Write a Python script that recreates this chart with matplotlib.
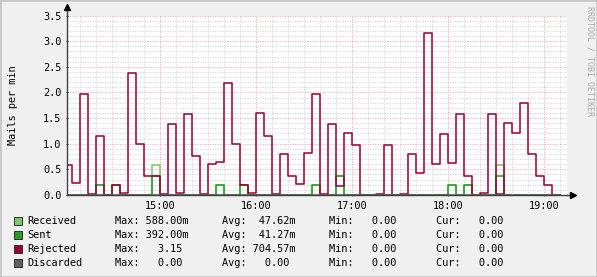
import numpy as np
import matplotlib
matplotlib.use("Agg")
import matplotlib.pyplot as plt
from matplotlib.patches import Rectangle

# ---- data (5-minute steps, minutes relative to 15:00) ----
step_start = -60
step_len = 5
rejected = [0.58, 0.23, 1.96, 0.01, 1.16, 0.00, 0.19, 0.03, 2.37, 0.99, 0.38, 0.38,
            0.01, 1.38, 0.03, 1.57, 0.77, 0.01, 0.61, 0.64, 2.18, 0.99, 0.19, 0.03,
            1.59, 1.16, 0.01, 0.79, 0.38, 0.21, 0.81, 1.96, 0.01, 1.38, 0.18, 1.20,
            0.97, 0.00, 0.00, 0.01, 0.97, 0.00, 0.01, 0.79, 0.43, 3.15, 0.60, 1.18,
            0.62, 1.57, 0.38, 0.00, 0.03, 1.57, 0.01, 1.40, 1.20, 1.79, 0.79, 0.38,
            0.19, 0.00]
sent = [0, 0, 0, 0, 0.19, 0, 0.19, 0, 0, 0, 0, 0.38,
        0, 0, 0, 0, 0, 0, 0, 0.19, 0, 0, 0.19, 0,
        0, 0, 0, 0, 0, 0, 0, 0.19, 0, 0, 0.38, 0,
        0, 0, 0, 0, 0, 0, 0, 0, 0, 0, 0, 0,
        0.19, 0, 0.19, 0, 0, 0, 0.38, 0, 0, 0, 0, 0,
        0, 0]
received = [0, 0, 0, 0, 0.19, 0, 0.19, 0, 0, 0, 0, 0.588,
            0, 0, 0, 0, 0, 0, 0, 0.19, 0, 0, 0.19, 0,
            0, 0, 0, 0, 0, 0, 0, 0.19, 0, 0, 0.38, 0,
            0, 0, 0, 0, 0, 0, 0, 0, 0, 0, 0, 0,
            0.19, 0, 0.19, 0, 0, 0, 0.588, 0, 0, 0, 0, 0,
            0, 0]
discarded = [0.0] * 62

series_names = ["Received", "Sent", "Rejected", "Discarded"]
series_colors = ["#7CC66C", "#23A023", "#990033", "#606060"]
legend_max = ["588.00m", "392.00m", "  3.15 ", "  0.00 "]
legend_avg = [" 47.62m", " 41.27m", "704.57m", "  0.00 "]
legend_min = ["  0.00 ", "  0.00 ", "  0.00 ", "  0.00 "]
legend_cur = ["  0.00 ", "  0.00 ", "  0.00 ", "  0.00 "]

xtick_pos = [0, 60, 120, 180, 240]
xtick_labels = ["15:00", "16:00", "17:00", "18:00", "19:00"]
ytick_pos = [0.0, 0.5, 1.0, 1.5, 2.0, 2.5, 3.0, 3.5]
ytick_labels = ["0.0", "0.5", "1.0", "1.5", "2.0", "2.5", "3.0", "3.5"]

# ---- figure ----
W, H = 597, 277
mono = "DejaVu Sans Mono"
fs = 7.4
fig = plt.figure(figsize=(W / 100, H / 100), dpi=100, facecolor="#F0F0F0")

x0, x1 = 67, 567
ytop, ybot = 15.5, 195
ax = fig.add_axes([x0 / W, (H - ybot) / H, (x1 - x0) / W, (ybot - ytop) / H])
ax.set_facecolor("white")
ax.set_xlim(-58.1, 254.4)
ax.set_ylim(0, 3.5)

# grid
for m in np.arange(-50, 255, 10):
    if m % 60 == 0:
        continue
    ax.axvline(m, color="#D4D4D4", lw=0.6, ls=(0, (1.5, 1.5)), zorder=0.5)
for v in np.arange(0.1, 3.51, 0.1):
    if abs(v * 2 - round(v * 2)) < 1e-6:
        continue
    ax.axhline(v, color="#D4D4D4", lw=0.6, ls=(0, (1.5, 1.5)), zorder=0.5)
for m in xtick_pos:
    ax.axvline(m, color="#EDA8A8", lw=0.6, ls=(0, (1.5, 1.5)), zorder=0.6)
for v in ytick_pos[1:]:
    ax.axhline(v, color="#EDA8A8", lw=0.6, ls=(0, (1.5, 1.5)), zorder=0.6)

# data lines
n = len(rejected)
t = step_start + step_len * np.arange(n + 1)
for vals, col in zip([received, sent, rejected, discarded], series_colors):
    y = np.append(vals, vals[-1])
    ax.step(t, y, where="post", color=col, lw=1.1, zorder=2)

# axes styling
for s in ["top", "right"]:
    ax.spines[s].set_visible(False)
for s in ["left", "bottom"]:
    ax.spines[s].set_color("#404040")
    ax.spines[s].set_linewidth(1.0)
    ax.spines[s].set_zorder(3)
ax.set_xticks(xtick_pos)
ax.set_xticklabels(xtick_labels, fontfamily=mono, fontsize=fs)
ax.set_yticks(ytick_pos)
ax.set_yticklabels(ytick_labels, fontfamily=mono, fontsize=fs)
ax.tick_params(axis="both", length=2, width=0.8, color="#404040", direction="inout",
               pad=3, labelcolor="black")
ax.set_ylabel("Mails per min", fontfamily=mono, fontsize=fs, labelpad=18)

# axis arrows
ax.plot([0, 0], [1.0, 1.04], transform=ax.transAxes, color="#404040", lw=1.0, clip_on=False)
ax.plot([0], [1.045], transform=ax.transAxes, marker="^", ms=4, color="black", clip_on=False)
ax.plot([1.0, 1.01], [0, 0], transform=ax.transAxes, color="#404040", lw=1.0, clip_on=False)
ax.plot([1.012], [0], transform=ax.transAxes, marker=">", ms=4, color="black", clip_on=False)

# watermark
fig.text(590 / W, 1 - 6 / H, "RRDTOOL / TOBI OETIKER", rotation=270, ha="center", va="top",
         fontfamily=mono, fontsize=6, color="#A8A8A8")

# legend
rows_y = [221, 235, 249, 263]
for i, yy in enumerate(rows_y):
    fy = 1 - yy / H
    fig.patches.append(Rectangle((13.5 / W, 1 - (yy + 4) / H), 8 / W, 8 / H,
                                 transform=fig.transFigure, facecolor=series_colors[i],
                                 edgecolor="#303030", lw=0.7))
    fig.text(27 / W, fy, series_names[i], fontfamily=mono, fontsize=fs, va="center")
    fig.text(115 / W, fy, "Max: " + legend_max[i], fontfamily=mono, fontsize=fs, va="center")
    fig.text(222 / W, fy, "Avg: " + legend_avg[i], fontfamily=mono, fontsize=fs, va="center")
    fig.text(329 / W, fy, "Min: " + legend_min[i], fontfamily=mono, fontsize=fs, va="center")
    fig.text(436 / W, fy, "Cur: " + legend_cur[i], fontfamily=mono, fontsize=fs, va="center")

# border
fig.patches.append(Rectangle((0, 0), 1, 1, transform=fig.transFigure, fill=False,
                             edgecolor="#C8C8C8", lw=2))

fig.savefig("out.png", dpi=100, facecolor=fig.get_facecolor())
